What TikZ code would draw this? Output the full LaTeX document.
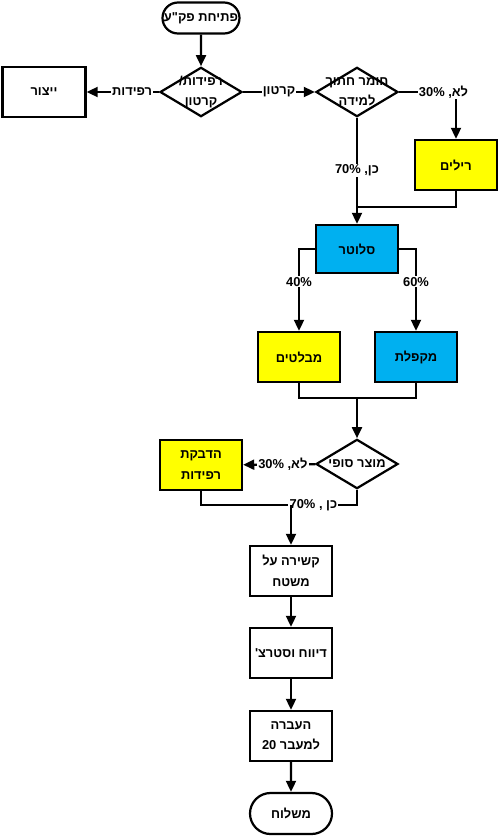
\documentclass[tikz,border=0pt]{standalone}
\usepackage{fontspec}
\setmainfont{Liberation Sans}
\newfontfamily\hebfont[Script=Hebrew]{Liberation Sans}
\TeXXeTstate=1
\usetikzlibrary{shapes.geometric,shapes.misc,arrows.meta}
\definecolor{yellowfill}{RGB}{255,255,0}
\definecolor{bluefill}{RGB}{0,176,240}
\newcommand{\heb}[1]{{\hebfont\beginR #1\endR}}

\begin{document}
\begin{tikzpicture}[x=0.03cm,y=-0.03cm,
  every node/.style={font=\fontsize{11}{17.5}\selectfont\bfseries},
  box/.style={draw,line width=1.9pt,minimum width=2.46cm,minimum height=1.5cm,inner sep=0pt,align=center},
  decision/.style={diamond,draw,line width=1.9pt,minimum width=2.46cm,minimum height=1.48cm,inner sep=0pt},
  terminal/.style={rounded rectangle,draw,line width=1.9pt,inner sep=0pt},
  lbl/.style={fill=white,inner sep=1pt},
  arrow/.style={-{Triangle[length=9.5pt,width=8.5pt]},line width=1.9pt},
  link/.style={line width=1.9pt}]
  \useasboundingbox (0,0) rectangle (500,838);

  \node[terminal,minimum width=2.31cm,minimum height=0.93cm] (start) at (201,18) {\heb{פתיחת פק"ע}};
  \node[decision,label={[align=center]center:{\hebfont\beginR רפידות/\endR\\\beginR קרטון\endR}}] (dec 1) at (201,92) {};
  \node[box,minimum width=2.49cm] (manuf) at (44,92) {\heb{ייצור}};
  \node[decision,label={[align=center]center:{\hebfont\beginR חומר חתוך\endR\\\beginR למידה\endR}}] (dec 2) at (357,92) {};
  \node[box,fill=yellowfill] (reels) at (456,165) {\heb{רילים}};
  \node[box,fill=bluefill,minimum height=1.44cm] (slotter) at (357,249) {\heb{סלוטר}};
  \node[box,fill=yellowfill] (pallets) at (299,357) {\heb{מבלטים}};
  \node[box,fill=bluefill] (folder) at (416,357) {\heb{מקפלת}};
  \node[decision,label={center:{\hebfont\beginR מוצר סופי\endR}}] (dec 3) at (357,464) {};
  \node[box,fill=yellowfill] (glue) at (201,465) {\heb{הדבקת}\\\heb{רפידות}};
  \node[box] (tie) at (291,571) {\heb{קשירה על}\\\heb{משטח}};
  \node[box] (wrap) at (291,653) {\heb{דיווח וסטרצ'}};
  \node[box] (move) at (291,736) {\heb{העברה}\\\heb{למעבר 20}};
  \node[terminal,minimum width=2.46cm,minimum height=1.23cm] (ship) at (291,813.5) {\heb{משלוח}};

  \coordinate (join 1) at (357,207);
  \coordinate (join 2) at (357,398);
  \coordinate (join 3) at (291,505);

  \draw[arrow] (start) -- (dec 1);
  \draw[arrow] (dec 1) -- node[lbl,pos=0.37] {\heb{רפידות}} (manuf);
  \draw[arrow] (dec 1) -- node[lbl,pos=0.5] {\heb{קרטון}} (dec 2);
  \draw[arrow] (dec 2.east) -| node[lbl,pos=0.39] {\heb{לא, 30\%}} (reels.north);
  \draw[link] (dec 2.south) -- node[lbl,pos=0.59] {\heb{כן, 70\%}} (join 1);
  \draw[link] (reels.south) |- (join 1);
  \draw[arrow] (join 1) -- (slotter);
  \draw[arrow] (slotter.west) -| node[lbl,pos=0.7] {40\%} (pallets.north);
  \draw[arrow] (slotter.east) -| node[lbl,pos=0.7] {60\%} (folder.north);
  \draw[link] (pallets.south) |- (join 2) -| (folder.south);
  \draw[arrow] (join 2) -- (dec 3);
  \draw[arrow] (dec 3) -- node[lbl,pos=0.45] {\heb{לא, 30\%}} (glue);
  \draw[link] (dec 3.south) |- node[lbl,pos=0.83] {\heb{כן , 70\%}} (join 3) -| (glue.south);
  \draw[arrow] (join 3) -- (tie);
  \draw[arrow] (tie) -- (wrap);
  \draw[arrow] (wrap) -- (move);
  \draw[arrow] (move) -- (ship);
\end{tikzpicture}
\end{document}
